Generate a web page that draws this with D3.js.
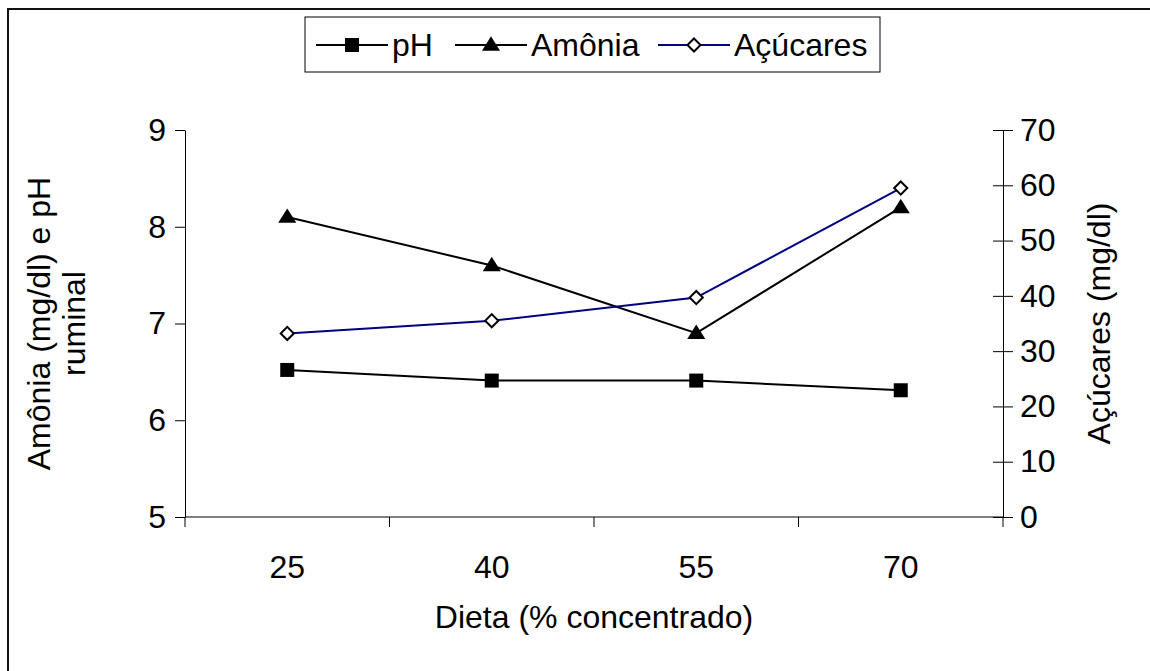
<!DOCTYPE html>
<html>
<head>
<meta charset="utf-8">
<script src="https://cdn.jsdelivr.net/npm/d3@7"></script>
<style>
  body { margin: 0; background: #fff; }
  svg text { font-family: "Liberation Sans", Arial, sans-serif; fill: #000; }
</style>
</head>
<body>
<div id="chart"></div>
<script>
// data
const dietas = ["25", "40", "55", "70"];
const ph = [6.52, 6.41, 6.41, 6.31];
const amonia = [8.1, 7.6, 6.9, 8.2];
const acucares = [33.2, 35.5, 39.7, 59.5];
const leftTicks = [5, 6, 7, 8, 9];
const rightTicks = [0, 10, 20, 30, 40, 50, 60, 70];

const width = 1150, height = 671;
const fontSize = 32;

const svg = d3.select("#chart").append("svg")
    .attr("width", width)
    .attr("height", height);

// outer frame (only top and left edges fall inside the picture)
svg.append("path")
    .attr("d", "M8,672V9H1151")
    .attr("fill", "none")
    .attr("stroke", "#111")
    .attr("stroke-width", 2);

const plot = {left: 185, right: 1003, top: 130, bottom: 517};

const x = d3.scaleBand().domain(dietas).range([plot.left, plot.right]);
const yL = d3.scaleLinear().domain([5, 9]).range([plot.bottom, plot.top]);
const yR = d3.scaleLinear().domain([0, 70]).range([plot.bottom, plot.top]);
const cx = d => x(d) + x.bandwidth() / 2;

// x axis: ticks at band edges, pointing down
const xEdges = dietas.map(d => x(d)).concat([plot.right]);
svg.append("line")
    .attr("x1", plot.left).attr("x2", plot.right)
    .attr("y1", plot.bottom).attr("y2", plot.bottom)
    .attr("stroke", "#000").attr("stroke-width", 1);
svg.selectAll(".xtick").data(xEdges).enter().append("line")
    .attr("x1", d => d).attr("x2", d => d)
    .attr("y1", plot.bottom).attr("y2", plot.bottom + 10)
    .attr("stroke", "#000").attr("stroke-width", 1);
svg.selectAll(".xlab").data(dietas).enter().append("text")
    .attr("x", cx)
    .attr("y", plot.bottom + 61)
    .attr("text-anchor", "middle")
    .attr("font-size", fontSize)
    .text(d => d);

// left axis
const gL = svg.append("g").attr("transform", `translate(${plot.left},0)`)
    .call(d3.axisLeft(yL).tickValues(leftTicks).tickFormat(d3.format("d"))
        .tickSize(10).tickPadding(9).tickSizeOuter(0));
gL.select(".domain").attr("stroke", "#000");
gL.selectAll("text").attr("font-size", fontSize).attr("font-family", null);

// right axis, ticks crossing the line
const gR = svg.append("g").attr("transform", `translate(${plot.right},0)`)
    .call(d3.axisRight(yR).tickValues(rightTicks).tickSize(10).tickPadding(7).tickSizeOuter(0));
gR.select(".domain").attr("stroke", "#000");
gR.selectAll(".tick line").attr("x1", -10);
gR.selectAll("text").attr("font-size", fontSize).attr("font-family", null);

// axis titles
const midY = (plot.top + plot.bottom) / 2;
svg.append("text")
    .attr("transform", `translate(50,${midY}) rotate(-90)`)
    .attr("text-anchor", "middle")
    .attr("font-size", fontSize)
    .text("Amônia (mg/dl) e pH");
svg.append("text")
    .attr("transform", `translate(85,${midY}) rotate(-90)`)
    .attr("text-anchor", "middle")
    .attr("font-size", fontSize)
    .text("ruminal");
svg.append("text")
    .attr("transform", `translate(1110,${midY}) rotate(-90)`)
    .attr("text-anchor", "middle")
    .attr("font-size", fontSize)
    .text("Açúcares (mg/dl)");
svg.append("text")
    .attr("x", (plot.left + plot.right) / 2)
    .attr("y", 628)
    .attr("text-anchor", "middle")
    .attr("font-size", fontSize)
    .text("Dieta (% concentrado)");

// wide triangle like the reference marker
const wideTriangle = {
  draw(ctx, size) {
    const h = Math.sqrt(size) * 0.85, w = h * 1.25;
    ctx.moveTo(0, -h * 0.6);
    ctx.lineTo(w / 2, h * 0.4);
    ctx.lineTo(-w / 2, h * 0.4);
    ctx.closePath();
  }
};

// series
const series = [
  {name: "pH", values: ph, y: yL, color: "#000", symbol: d3.symbolSquare, size: 196, fill: "#000"},
  {name: "Amônia", values: amonia, y: yL, color: "#000", symbol: wideTriangle, size: 290, fill: "#000"},
  {name: "Açúcares", values: acucares, y: yR, color: "#000080", symbol: d3.symbolDiamond2, size: 110, fill: "#fff"}
];

const line = (s) => d3.line()
    .x((d, i) => cx(dietas[i]))
    .y(d => s.y(d))(s.values);

function marker(sel, s) {
  sel.attr("d", d3.symbol().type(s.symbol).size(s.size)())
     .attr("fill", s.fill)
     .attr("stroke", "#000")
     .attr("stroke-width", s.fill === "#fff" ? 2 : 0);
}

series.forEach(s => {
  svg.append("path")
      .attr("d", line(s))
      .attr("fill", "none")
      .attr("stroke", s.color)
      .attr("stroke-width", 2);
  svg.selectAll(null).data(s.values).enter().append("path")
      .attr("transform", (d, i) => `translate(${cx(dietas[i])},${s.y(d)})`)
      .call(marker, s);
});

// legend
const legend = svg.append("g");
legend.append("rect")
    .attr("x", 305).attr("y", 17)
    .attr("width", 575).attr("height", 55)
    .attr("fill", "#fff")
    .attr("stroke", "#000")
    .attr("stroke-width", 1);
const legX = [316, 455, 658];
series.forEach((s, i) => {
  const g = legend.append("g").attr("transform", `translate(${legX[i]},45)`);
  g.append("line").attr("x1", 0).attr("x2", 72)
      .attr("stroke", s.color).attr("stroke-width", 2);
  g.append("path").attr("transform", "translate(36,0)").call(marker, s);
  g.append("text").attr("x", 76).attr("y", 11)
      .attr("font-size", fontSize)
      .text(s.name);
});
</script>
</body>
</html>
